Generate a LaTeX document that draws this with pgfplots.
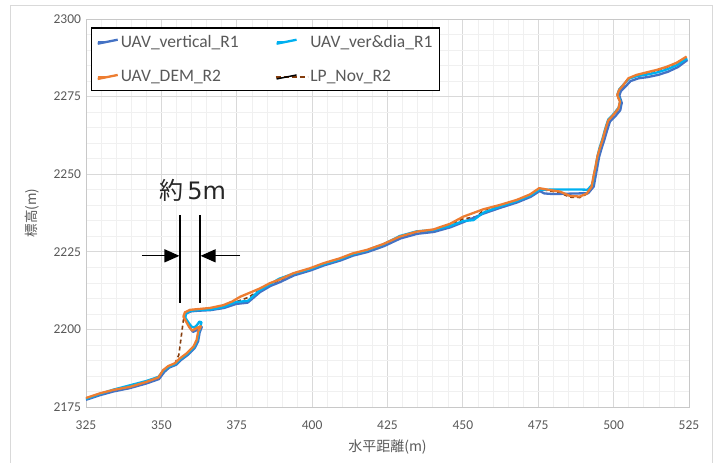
\documentclass[border=0pt]{standalone}
\usepackage{fontspec}
\setmainfont{Carlito}
\newfontfamily\cjk{Noto Sans CJK JP}
\newfontfamily\dejavu{DejaVu Sans}
\usepackage{pgfplots}
\pgfplotsset{compat=1.18}
\usetikzlibrary{arrows.meta}
\definecolor{cBlue}{HTML}{4472C4}
\definecolor{cCyan}{HTML}{00B0F0}
\definecolor{cOrange}{HTML}{ED7D31}
\definecolor{cBrown}{HTML}{843C0C}
\definecolor{gridmaj}{HTML}{D9D9D9}
\definecolor{gridmin}{HTML}{F0F0F0}
\definecolor{axisc}{HTML}{C8C8C8}
\definecolor{txt}{HTML}{595959}
\pgfplotsset{
 shortleg/.style={legend image code/.code={\draw[##1, line width=2pt] (0pt,0pt) -- (8pt,0pt); \path (0pt,-2pt) -- (20pt,2pt);}},
 dashleg/.style={legend image code/.code={\draw[color=cBrown, line width=1.6pt, dash pattern=on 5pt off 3pt] (-1pt,0pt) -- (31pt,0pt); \path (0pt,-2pt) -- (20pt,2pt);}},
}
\begin{document}
\begin{tikzpicture}
\useasboundingbox (-86pt,-56pt) rectangle (629pt,407pt);
\draw[color=gridmaj, line width=0.8pt] (-76pt,-62pt) rectangle (626pt,402pt);
\begin{axis}[
 at={(0pt,0pt)}, anchor=south west, scale only axis, width=603pt, height=388pt,
 xmin=325, xmax=525, ymin=2175, ymax=2300,
 xtick={325,350,...,525}, ytick={2175,2200,...,2300},
 minor x tick num=4, minor y tick num=4,
 grid=both,
 major grid style={color=gridmaj, line width=0.8pt},
 minor grid style={color=gridmin, line width=0.6pt},
 axis line style={color=axisc, line width=0.8pt},
 major tick length=0pt, minor tick length=0pt,
 tick label style={font=\fontsize{13.5}{16}\selectfont, color=txt},
 /pgf/number format/assume math mode=true,
 /pgf/number format/1000 sep={},
 xticklabel style={yshift=-10pt},
 yticklabel style={xshift=-1.5pt},
 xlabel={\cjk 水平距離(m)}, ylabel={\cjk 標高(m)},
 xlabel style={at={(axis description cs:0.5,-0.103)}, anchor=center, font=\fontsize{14}{16}\selectfont, color=txt},
 ylabel style={at={(axis description cs:-0.0896,0.5)}, anchor=center, rotate=0, font=\fontsize{13.5}{16}\selectfont, color=txt},
 legend columns=2, legend cell align=left,
 legend style={at={(rel axis cs:0.008,0.979)}, anchor=north west, draw=black, line width=1.5pt, fill=white,
   font=\fontsize{17.5}{20}\selectfont\color{txt}, inner xsep=5pt, inner ysep=5pt, row sep=18pt,
   /tikz/every even column/.append style={column sep=34pt}},
]
% LP_Nov_R2 (drawn first, underneath)
\addplot[color=cBrown, line width=1.6pt, dash pattern=on 4pt off 3pt, forget plot] coordinates {
(325,2177.8)(329.6,2179.2)(334.1,2180.3)(339.6,2181.1)(345.1,2182.8)(349.0,2184.3)(350.6,2186.7)(352.3,2188.0)(354.5,2189.0)(355.8,2191.8)(357.3,2203.0)(358.3,2205.4)(361.7,2206.3)(366.1,2206.6)(370.5,2207.3)(374.8,2208.9)(378.8,2210.3)(382.7,2212.7)(386.0,2214.5)(389.3,2215.8)(393.8,2217.8)(399.3,2219.5)(403.7,2221.1)(409.2,2222.7)(413.5,2224.3)(418.1,2225.4)(423.6,2227.3)(429.1,2229.6)(432.5,2230.4)(437.0,2231.4)(440.2,2231.9)(445.7,2233.7)(450.1,2235.6)(454.6,2236.3)(456.8,2238.4)(462.3,2239.9)(467.8,2241.5)(472.3,2243.3)(475.3,2245.2)(478.9,2244.6)(482.2,2244.0)(485.5,2242.6)(488.8,2242.5)(491.1,2243.6)(492.7,2245.8)(493.3,2249.0)(494.0,2252.2)(494.6,2255.4)(495.3,2257.8)(496.3,2260.8)(497.2,2264.0)(498.2,2267.1)(499.9,2268.9)(501.6,2271.0)(502.1,2273.2)(501.2,2275.3)(501.8,2276.9)(503.2,2278.5)(504.9,2280.7)(507.6,2281.8)(510.9,2282.6)(514.3,2283.4)(517.6,2284.4)(520.9,2285.7)(524.2,2287.7)
};
% UAV_vertical_R1
\addplot[color=cBlue, line width=2.3pt, line join=round, shortleg] coordinates {
(325,2177.3)(329.6,2178.8)(334.1,2180.0)(339.6,2181.1)(345.1,2182.6)(349.2,2184.0)(351.0,2186.3)(352.6,2187.7)(354.9,2188.6)(356.6,2190.2)(358.8,2191.8)(361.0,2193.9)(362.2,2196.2)(362.7,2199.0)(363.4,2200.8)(362.3,2200.0)(360.5,2199.2)(359.5,2200.5)(358.6,2202.3)(357.7,2203.9)(358.2,2205.1)(359.8,2205.8)(362.0,2206.0)(366.3,2206.2)(370.8,2206.9)(374.8,2208.2)(378.6,2208.6)(382.7,2212.0)(386.2,2214.0)(389.5,2215.3)(394.0,2217.4)(399.5,2219.0)(403.9,2220.6)(409.4,2222.2)(413.7,2223.8)(418.3,2224.9)(423.8,2226.8)(429.3,2229.3)(434.9,2230.8)(440.4,2231.4)(445.9,2232.9)(450.3,2234.6)(456.8,2237.3)(462.5,2239.2)(468.0,2240.9)(472.5,2242.7)(475.5,2244.6)(477.0,2243.8)(480.0,2243.6)(484.0,2243.7)(488.0,2243.8)(491.6,2243.9)(493.4,2246.0)(494.0,2249.2)(494.6,2252.4)(495.2,2255.6)(495.9,2258.0)(496.9,2261.0)(497.8,2264.0)(498.8,2267.0)(500.5,2268.6)(502.2,2270.6)(502.7,2273.0)(501.9,2275.3)(502.4,2276.8)(503.9,2278.2)(505.6,2280.0)(508.3,2280.9)(511.4,2281.3)(514.8,2282.0)(518.0,2283.0)(521.3,2284.5)(524.5,2286.8)
};
\addlegendentry{UAV\_vertical\_R1}
% UAV_ver&dia_R1
\addplot[color=cCyan, line width=2.3pt, line join=round, shortleg] coordinates {
(325,2177.6)(329.6,2179.2)(334.1,2180.6)(339.6,2182.0)(345.1,2183.4)(349.0,2184.7)(350.8,2186.8)(352.5,2188.0)(354.7,2188.9)(356.4,2190.5)(358.6,2192.1)(360.8,2194.2)(361.9,2196.5)(362.5,2199.3)(363.3,2202.3)(362.6,2202.5)(361.8,2201.4)(360.9,2200.6)(360.0,2200.9)(359.0,2202.2)(357.9,2203.8)(358.3,2205.3)(359.9,2206.0)(362.0,2206.2)(366.3,2206.4)(370.6,2207.2)(374.6,2208.8)(378.7,2209.2)(382.5,2212.5)(386.0,2214.5)(389.0,2216.3)(393.6,2217.9)(399.3,2219.4)(403.8,2221.0)(409.2,2222.6)(413.5,2224.2)(418.1,2225.4)(423.6,2227.4)(429.1,2230.1)(434.7,2231.6)(440.2,2232.0)(445.7,2233.3)(450.1,2234.9)(453.5,2235.2)(456.8,2237.6)(462.3,2239.6)(467.8,2241.3)(472.3,2243.1)(475.3,2245.0)(477.5,2245.0)(482.0,2245.1)(487.0,2245.1)(491.4,2245.0)(493.0,2246.8)(493.5,2249.8)(494.1,2252.8)(494.7,2256.0)(495.3,2258.4)(496.3,2261.4)(497.2,2264.6)(498.2,2267.6)(500.0,2269.4)(501.7,2271.5)(502.2,2273.6)(501.3,2275.8)(501.9,2277.4)(503.4,2279.0)(505.1,2280.8)(507.8,2281.6)(511.1,2282.1)(514.5,2282.8)(517.8,2283.8)(521.1,2285.2)(524.4,2287.3)
};
\addlegendentry{UAV\_ver\&dia\_R1}
% UAV_DEM_R2
\addplot[color=cOrange, line width=2.3pt, line join=round, shortleg] coordinates {
(325,2177.9)(329.6,2179.4)(334.1,2180.5)(339.6,2181.5)(345.1,2183.1)(349.0,2184.5)(350.6,2186.9)(352.3,2188.2)(354.5,2189.1)(356.2,2190.7)(358.4,2192.3)(360.6,2194.4)(361.7,2196.6)(362.2,2199.3)(363.1,2201.0)(362.0,2200.6)(360.2,2199.6)(359.2,2200.8)(358.2,2202.5)(357.3,2204.1)(357.8,2205.5)(359.5,2206.3)(361.7,2206.5)(366.1,2206.9)(370.5,2207.8)(373.5,2209.0)(376.1,2210.5)(378.8,2211.6)(382.7,2213.2)(386.0,2214.9)(389.3,2216.1)(393.8,2218.1)(399.3,2219.7)(403.7,2221.3)(409.2,2222.9)(413.5,2224.5)(418.1,2225.6)(423.6,2227.5)(429.1,2229.9)(434.7,2231.5)(440.2,2232.2)(445.7,2234.0)(450.1,2236.3)(456.8,2238.7)(462.3,2240.1)(467.8,2241.7)(472.3,2243.5)(475.3,2245.5)(478.9,2244.9)(482.2,2244.4)(485.5,2243.0)(488.8,2242.8)(491.1,2243.8)(492.7,2246.0)(493.3,2249.2)(494.0,2252.4)(494.6,2255.6)(495.3,2258.0)(496.3,2261.0)(497.2,2264.2)(498.2,2267.3)(499.9,2269.1)(501.6,2271.2)(502.1,2273.4)(501.2,2275.5)(501.8,2277.1)(503.2,2278.7)(504.9,2280.9)(507.6,2282.0)(510.9,2282.8)(514.3,2283.6)(517.6,2284.6)(520.9,2285.9)(524.2,2287.9)
};
\addlegendentry{UAV\_DEM\_R2}
\addlegendimage{dashleg}
\addlegendentry{LP\_Nov\_R2}
% annotation
\draw[black, line width=1.8pt] (axis cs:356.2,2236.9) -- (axis cs:356.2,2208.5);
\draw[black, line width=1.8pt] (axis cs:362.8,2236.9) -- (axis cs:362.8,2208.5);
\draw[black, line width=1.2pt, -{Triangle[length=15pt,width=13pt]}] (axis cs:343.5,2223.7) -- (axis cs:356.0,2223.7);
\draw[black, line width=1.2pt, -{Triangle[length=15pt,width=13pt]}] (axis cs:376.1,2223.7) -- (axis cs:363.0,2223.7);
\node[anchor=center, color=black!85, font=\fontsize{24}{28}\selectfont] at (axis cs:360.4,2244.7) {{\cjk 約}\,{\dejavu 5m}};
\end{axis}
\end{tikzpicture}
\end{document}
